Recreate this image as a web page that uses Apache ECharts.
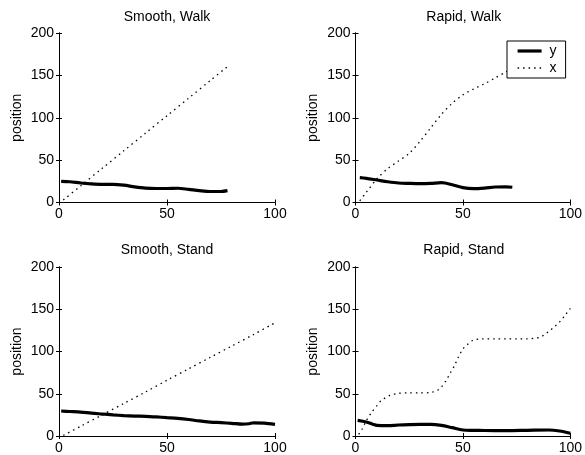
<!DOCTYPE html>
<html>
<head>
<meta charset="utf-8">
<script src="https://cdn.jsdelivr.net/npm/echarts@6/dist/echarts.min.js"></script>
<style>html,body{margin:0;padding:0;background:#fff}#c{width:585px;height:455px}</style>
</head>
<body>
<div id="c"></div>
<script>
// ---- data ----
const titles = ['Smooth, Walk', 'Rapid, Walk', 'Smooth, Stand', 'Rapid, Stand'];
const xTicks = [0, 50, 100];
const yTicks = [0, 50, 100, 150, 200];
const yAxisName = 'position';
const legendNames = ['y', 'x'];

const smoothWalkT  = [1,5,10,15,20,25,30,35,40,45,50,55,60,65,70,75,78];
const smoothWalkY  = [25,24.5,23,22,21.5,21.5,20.5,18.5,17,16.5,16.5,16.8,15.5,14,13,13,14];
const smoothWalkXT = [2,10,20,30,40,50,60,70,78];
const smoothWalkX  = [3,19.6,40.3,61,81.7,102.4,123,143.8,160.3];

const rapidWalkT  = [2,5,10,15,20,25,30,35,40,45,50,55,60,65,70,73];
const rapidWalkY  = [29.3,28.5,26.5,24.5,23,22.5,22.2,22.5,23.4,21,17.5,16.3,17,18.3,18.5,18];
const rapidWalkXT = [2,5,10,15,20,25,30,35,40,45,50,55,60,65,70,73];
const rapidWalkX  = [2,12,28,40,49,58,72,88,104,117,127,134,140,147,154,158];

const smoothStandT  = [1,5,10,15,20,25,30,35,40,45,50,55,60,65,70,75,80,85,88,90,95,100];
const smoothStandY  = [29.6,29,28.3,27,26,25,24.2,23.6,23.3,22.6,21.7,20.8,19.5,17.8,16.5,15.8,15,14,14.5,15.6,15.2,13.8];
const smoothStandXT = [2,10,20,30,40,50,60,70,80,90,100];
const smoothStandX  = [0.7,11.5,25,38.5,52,66,79.5,93,106.5,120,134];

const rapidStandT  = [1,5,8,10,15,20,25,30,35,40,45,50,55,60,70,80,90,95,100];
const rapidStandY  = [18.5,16.6,14,12.5,12.2,13,13.5,13.8,13.8,12.6,9.9,7.1,6.7,6.5,6.3,6.7,7.1,5.9,3.2];
const rapidStandXT = [1.5,3,5,7.5,10,12,16,20,25,30,35,38,40,42,44,46,48,50,52,54.5,59,65,70,75,80,84,86,88,90,92.5,95,97,100];
const rapidStandX  = [2,8,18,28,36,42,48,50.5,51,51,51.5,54,58,65,74,83,94,103,108,113,115,115,115,115,115,116,117,120,124,129,135,141,151];

const panels = [
  {yt: smoothWalkT, y: smoothWalkY, xt: smoothWalkXT, x: smoothWalkX},
  {yt: rapidWalkT, y: rapidWalkY, xt: rapidWalkXT, x: rapidWalkX},
  {yt: smoothStandT, y: smoothStandY, xt: smoothStandXT, x: smoothStandX},
  {yt: rapidStandT, y: rapidStandY, xt: rapidStandXT, x: rapidStandX}
];

// ---- layout ----
const FONT = 'Liberation Sans, Arial, Helvetica, sans-serif';
const FS = 14;
const grids = [
  {left: 59, top: 33, width: 216, height: 169.5},
  {left: 355.5, top: 33, width: 216.5, height: 169.5},
  {left: 59, top: 267, width: 216, height: 169},
  {left: 355.5, top: 267, width: 216.5, height: 169}
];
const titleTops = [10.5, 10.5, 243.5, 243.5];
const solidStyle = {color: '#000', width: 3.2, type: 'solid'};
const dotStyle = {color: '#000', width: 1.3, type: [1.5, 4]};

const zip = (a, b) => a.map((v, i) => [v, b[i]]);
const xMin = xTicks[0], xMax = xTicks[xTicks.length - 1], xInt = xTicks[1] - xTicks[0];
const yMin = yTicks[0], yMax = yTicks[yTicks.length - 1], yInt = yTicks[1] - yTicks[0];

const axLine = {show: true, lineStyle: {color: '#000', width: 1}};
const tick = {show: true, inside: true, length: 3, lineStyle: {color: '#000', width: 1}};
const lbl = {color: '#000', fontFamily: FONT, fontSize: FS};

const xAxis = [], yAxis = [], series = [], title = [];
grids.forEach((g, i) => {
  title.push({text: titles[i], left: g.left + g.width / 2, top: titleTops[i], textAlign: 'center', padding: 0,
    textStyle: {color: '#000', fontFamily: FONT, fontSize: FS, fontWeight: 'normal', lineHeight: 14}});
  xAxis.push({type: 'value', gridIndex: i, min: xMin, max: xMax, interval: xInt, position: 'bottom',
    axisLine: axLine, axisTick: tick, splitLine: {show: false},
    axisLabel: Object.assign({margin: 5, showMinLabel: true, showMaxLabel: true}, lbl)});
  xAxis.push({type: 'value', gridIndex: i, min: xMin, max: xMax, interval: xInt, position: 'top',
    axisLine: axLine, axisTick: tick, splitLine: {show: false}, axisLabel: {show: false}});
  yAxis.push({type: 'value', gridIndex: i, min: yMin, max: yMax, interval: yInt, position: 'left',
    name: yAxisName, nameLocation: 'middle', nameGap: 35, nameRotate: 90,
    nameTextStyle: {color: '#000', fontFamily: FONT, fontSize: FS},
    axisLine: axLine, axisTick: tick, splitLine: {show: false},
    axisLabel: Object.assign({margin: 5, showMinLabel: true, showMaxLabel: true}, lbl)});
  yAxis.push({type: 'value', gridIndex: i, min: yMin, max: yMax, interval: yInt, position: 'right',
    axisLine: axLine, axisTick: tick, splitLine: {show: false}, axisLabel: {show: false}});
  const p = panels[i];
  series.push({name: legendNames[0], type: 'line', xAxisIndex: 2 * i, yAxisIndex: 2 * i,
    data: zip(p.yt, p.y), symbol: 'none', showSymbol: false, smooth: 0.3,
    lineStyle: solidStyle, itemStyle: {color: '#000'}, animation: false});
  series.push({name: legendNames[1], type: 'line', xAxisIndex: 2 * i, yAxisIndex: 2 * i,
    data: zip(p.xt, p.x), symbol: 'none', showSymbol: false, smooth: 0.3,
    lineStyle: dotStyle, itemStyle: {color: '#000'}, animation: false});
});

const chart = echarts.init(document.getElementById('c'), null, {renderer: 'canvas'});
chart.setOption({
  backgroundColor: '#fff',
  animation: false,
  title: title,
  grid: grids.map(g => Object.assign({containLabel: false, show: false}, g)),
  xAxis: xAxis,
  yAxis: yAxis,
  legend: {
    data: [
      {name: legendNames[0], lineStyle: solidStyle},
      {name: legendNames[1], lineStyle: dotStyle}
    ],
    orient: 'vertical', left: 507, top: 41,
    padding: [3, 9, 3, 9], itemGap: 3, itemWidth: 24, itemHeight: 14,
    backgroundColor: '#fff', borderColor: '#000', borderWidth: 1, borderRadius: 0,
    selectedMode: false,
    itemStyle: {opacity: 0},
    textStyle: {color: '#000', fontFamily: FONT, fontSize: FS, padding: [0, 0, 0, 3]}
  },
  series: series
});
</script>
</body>
</html>
